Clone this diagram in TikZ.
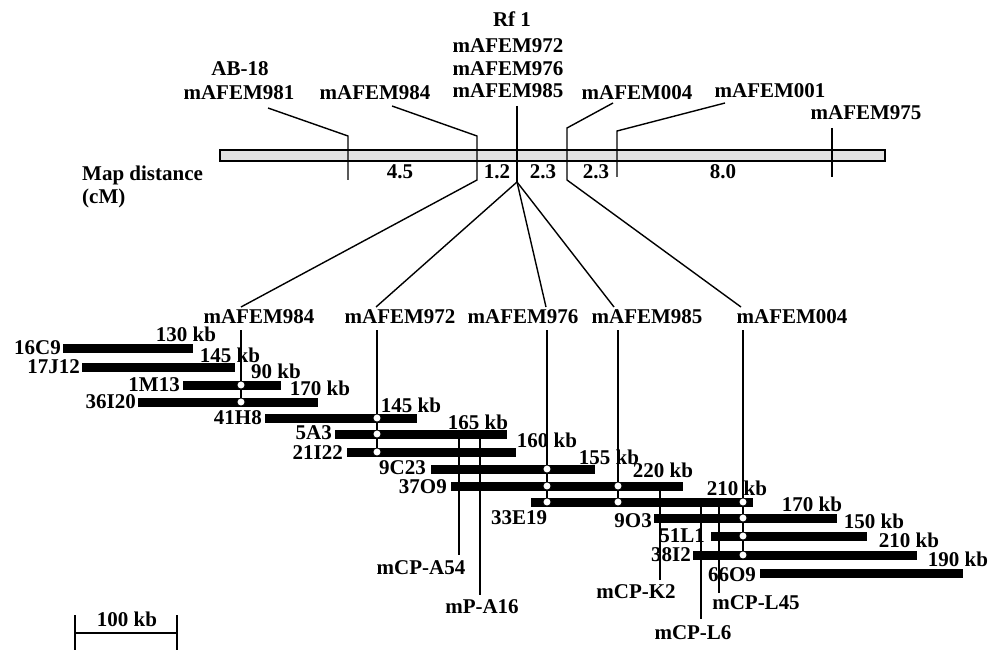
\documentclass[tikz,border=0pt]{standalone}
\usepackage{fontspec}
\setmainfont{Liberation Serif}
\begin{document}
\begin{tikzpicture}[x=1pt,y=-1pt,
  lb/.style={font=\fontsize{21}{23}\selectfont\bfseries, inner sep=0pt},
  ld/.style={line width=1.4pt},
  mk/.style={line width=1.2pt},
  bac/.style={fill=black},
  dot/.style={circle, draw=black, fill=white, line width=0.7pt, minimum size=8pt, inner sep=0pt}]
\useasboundingbox (0,0) rectangle (991,650);
% ---------------- top map ----------------
\node[lb] (rf) at (512,19) {Rf 1};
\node[lb] (t972) at (508,46) {mAFEM972};
\node[lb] (t976) at (508,69) {mAFEM976};
\node[lb] (t985) at (508,91) {mAFEM985};
\node[lb] (tab) at (240,69) {AB-18};
\node[lb] (t981) at (239,93) {mAFEM981};
\node[lb] (t984) at (375,93) {mAFEM984};
\node[lb] (t004) at (637,93) {mAFEM004};
\node[lb] (t001) at (770,91) {mAFEM001};
\node[lb] (t975) at (866,113) {mAFEM975};
\node[lb, anchor=west] (md) at (82,175) {Map distance};
\node[lb, anchor=west] (cm) at (82,198) {(cM)};
\node[lb] (d1) at (400,172) {4.5};
\node[lb] (d2) at (497,172) {1.2};
\node[lb] (d3) at (543,172) {2.3};
\node[lb] (d4) at (596,172) {2.3};
\node[lb] (d5) at (723,172) {8.0};
\draw[line width=1.8pt, fill=gray!22] (220,150) rectangle (885,161);
% leaders and ticks
\coordinate (a981) at (268,108); \coordinate (k981a) at (348,136); \coordinate (k981b) at (348,180);
\draw[ld] (a981) -- (k981a) -- (k981b);
\coordinate (a984) at (392,106); \coordinate (k984a) at (477,136); \coordinate (k984b) at (477,180);
\coordinate (a985) at (517,106); \coordinate (krf) at (517,182);
\draw[ld] (a985) -- (krf);
\coordinate (a004) at (613,103); \coordinate (k004a) at (567,128); \coordinate (k004b) at (567,180);
\coordinate (a001) at (725,103); \coordinate (k001a) at (617,131); \coordinate (k001b) at (617,177);
\draw[ld] (a001) -- (k001a) -- (k001b);
\coordinate (a975) at (832,128); \coordinate (k975b) at (832,177);
\draw[ld] (a975) -- (k975b);
% ---------------- lower markers ----------------
\node[lb] (b984) at (259,317) {mAFEM984};
\node[lb] (b972) at (400,317) {mAFEM972};
\node[lb] (b976) at (523,317) {mAFEM976};
\node[lb] (b985) at (647,317) {mAFEM985};
\node[lb] (b004) at (792,317) {mAFEM004};
\coordinate (f984) at (241,307);
\coordinate (f972) at (376,307);
\coordinate (f976) at (546,307);
\coordinate (f985) at (614,307);
\coordinate (f004) at (741,307);
\draw[ld] (a984) -- (k984a) -- (k984b) -- (f984);
\draw[ld] (krf) -- (f972);
\draw[ld] (krf) -- (f976);
\draw[ld] (krf) -- (f985);
\draw[ld] (a004) -- (k004a) -- (k004b) -- (f004);
% ---------------- BAC contig ----------------
\def\bh{4.5}
% 16C9
\fill[bac] (63,348-\bh) rectangle (193,348+\bh);
\node[lb, anchor=east] (n16C9) at (61,348) {16C9};
\node[lb] (s16C9) at (186,334) {130 kb};
% 17J12
\fill[bac] (82,367-\bh) rectangle (235,367+\bh);
\node[lb, anchor=east] (n17J12) at (80,367) {17J12};
\node[lb] (s17J12) at (230,355) {145 kb};
% 1M13
\fill[bac] (183,385-\bh) rectangle (281,385+\bh);
\node[lb, anchor=east] (n1M13) at (180,385) {1M13};
\node[lb] (s1M13) at (276,371) {90 kb};
% 36I20
\fill[bac] (138,402-\bh) rectangle (318,402+\bh);
\node[lb, anchor=east] (n36I20) at (136,402) {36I20};
\node[lb] (s36I20) at (320,388) {170 kb};
% 41H8
\fill[bac] (265,418-\bh) rectangle (417,418+\bh);
\node[lb, anchor=east] (n41H8) at (262,418) {41H8};
\node[lb] (s41H8) at (411,405) {145 kb};
% 5A3
\fill[bac] (335,434-\bh) rectangle (507,434+\bh);
\node[lb, anchor=east] (n5A3) at (332,433) {5A3};
\node[lb] (s5A3) at (478,422) {165 kb};
% 21I22
\fill[bac] (347,452-\bh) rectangle (516,452+\bh);
\node[lb, anchor=east] (n21I22) at (343,453) {21I22};
\node[lb] (s21I22) at (547,440) {160 kb};
% 9C23
\fill[bac] (431,469-\bh) rectangle (595,469+\bh);
\node[lb, anchor=east] (n9C23) at (426,468) {9C23};
\node[lb] (s9C23) at (609,457) {155 kb};
% 37O9
\fill[bac] (451,486-\bh) rectangle (683,486+\bh);
\node[lb, anchor=east] (n37O9) at (447,487) {37O9};
\node[lb] (s37O9) at (663,470) {220 kb};
% 33E19
\fill[bac] (531,502-\bh) rectangle (753,502+\bh);
\node[lb] (n33E19) at (519,518) {33E19};
\node[lb] (s33E19) at (737,488) {210 kb};
% 9O3
\fill[bac] (654,518-\bh) rectangle (837,518+\bh);
\node[lb, anchor=east] (n9O3) at (652,521) {9O3};
\node[lb] (s9O3) at (812,504) {170 kb};
% 51L1
\fill[bac] (711,536-\bh) rectangle (867,536+\bh);
\node[lb, anchor=east] (n51L1) at (705,536) {51L1};
\node[lb] (s51L1) at (874,521) {150 kb};
% 38I2
\fill[bac] (693,555-\bh) rectangle (917,555+\bh);
\node[lb, anchor=east] (n38I2) at (691,555) {38I2};
\node[lb] (s38I2) at (909,540) {210 kb};
% 66O9
\fill[bac] (760,573-\bh) rectangle (963,573+\bh);
\node[lb] (n66O9) at (732,575) {66O9};
\node[lb] (s66O9) at (958,559) {190 kb};
% marker lines
\coordinate (v984) at (241,330); \coordinate (e984) at (241,405);
\coordinate (v972) at (377,330); \coordinate (e972) at (377,455);
\coordinate (v976) at (547,330); \coordinate (e976) at (547,505);
\coordinate (v985) at (618,330); \coordinate (e985) at (618,505);
\coordinate (v004) at (743,330); \coordinate (e004) at (743,558);
\draw[mk] (v984) -- (e984);
\draw[mk] (v972) -- (e972);
\draw[mk] (v976) -- (e976);
\draw[mk] (v985) -- (e985);
\draw[mk] (v004) -- (e004);
% circles
\node[dot] (c1) at (241,385) {};
\node[dot] (c2) at (241,402) {};
\node[dot] (c3) at (377,418) {};
\node[dot] (c4) at (377,434) {};
\node[dot] (c5) at (377,452) {};
\node[dot] (c6) at (547,469) {};
\node[dot] (c7) at (547,486) {};
\node[dot] (c8) at (547,502) {};
\node[dot] (c9) at (618,486) {};
\node[dot] (c10) at (618,502) {};
\node[dot] (c11) at (743,502) {};
\node[dot] (c12) at (743,518) {};
\node[dot] (c13) at (743,536) {};
\node[dot] (c14) at (743,555) {};
% probes
\node[lb] (pA54) at (421,568) {mCP-A54};
\node[lb] (pA16) at (482,607) {mP-A16};
\node[lb] (pK2) at (636,592) {mCP-K2};
\node[lb] (pL6) at (693,633) {mCP-L6};
\node[lb] (pL45) at (756,603) {mCP-L45};
\coordinate (gA54a) at (459,434); \coordinate (gA54b) at (459,555);
\coordinate (gA16a) at (480,434); \coordinate (gA16b) at (480,595);
\coordinate (gK2a) at (660,486); \coordinate (gK2b) at (660,580);
\coordinate (gL6a) at (701,502); \coordinate (gL6b) at (701,619);
\coordinate (gL45a) at (719,502); \coordinate (gL45b) at (719,593);
\draw[mk] (gA54a) -- (gA54b);
\draw[mk] (gA16a) -- (gA16b);
\draw[mk] (gK2a) -- (gK2b);
\draw[mk] (gL6a) -- (gL6b);
\draw[mk] (gL45a) -- (gL45b);
% scale bar
\node[lb] (sc) at (127,619) {100 kb};
\coordinate (sl) at (75,633); \coordinate (sr) at (177,633);
\draw[line width=2pt] (sl) -- (sr);
\draw[line width=2pt] (75,615) -- (75,650);
\draw[line width=2pt] (177,615) -- (177,650);
\end{tikzpicture}
\end{document}
